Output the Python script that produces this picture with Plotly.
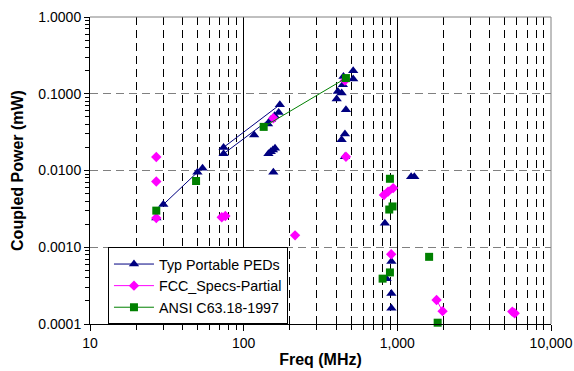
import plotly.graph_objects as go

# Typ Portable PEDs (None separates unconnected groups)
ped_freq = [27, None, 30, 50, None, 54, None, 74, 172, None, 74, 169, None, 117, None,
            144, None, 150, None, 159, None, 145, None, 150, None, 155, None, 160, None, 156, None,
            403, None, 410, None, 434, None, 442, None, 446, None, 516, None, 516, None, 463, None,
            456, None, 434, None, 456, None, 830, None, 915, None, 851, None, 915, None, 915, None,
            1230, None, 1290]
ped_power = [0.0024, None, 0.0036, 0.0095, None, 0.0107, None, 0.020, 0.072, None, 0.0165, 0.057, None, 0.029, None,
             0.0405, None, 0.0457, None, 0.0516, None, 0.0165, None, 0.0175, None, 0.0185, None, 0.0195, None, 0.0095, None,
             0.0853, None, 0.107, None, 0.102, None, 0.131, None, 0.168, None, 0.199, None, 0.156, None, 0.0617, None,
             0.030, None, 0.0251, None, 0.0151, None, 0.00205, None, 0.00065, None, 0.00039, None, 0.00025, None, 0.00016, None,
             0.0083, None, 0.0083]

# FCC_Specs-Partial
fcc_freq = [27, None, 27, None, 27, None, 72, 76, None, 156, None, 216, None, 456, None, 463, None,
            818, 870, 940, None, 912, None, 1800, 1970, None, 5600, 5800]
fcc_power = [0.015, None, 0.0072, None, 0.0024, None, 0.00246, 0.00255, None, 0.048, None, 0.00143, None, 0.149, None, 0.0151, None,
             0.0048, 0.0053, 0.0059, None, 0.00081, None, 0.000205, 0.000147, None, 0.000145, 0.000138]

# ANSI C63.18-1997
ansi_freq = [27, None, 49, None, 135, 463, None, 895, None, 886, None, 931, None, 895, None, 802, None,
             1610, None, 1830]
ansi_power = [0.0030, None, 0.0073, None, 0.037, 0.16, None, 0.0078, None, 0.0031, None, 0.0034, None, 0.00047, None, 0.00039, None,
              0.00075, None, 0.000104]

x_tick_vals = [10, 100, 1000, 10000]
x_tick_text = ["10", "100", "1,000", "10,000"]
y_tick_vals = [0.0001, 0.001, 0.01, 0.1, 1]
y_tick_text = ["0.0001", "0.0010", "0.0100", "0.1000", "1.0000"]

x_minor = [m * 10 ** e for e in (1, 2, 3) for m in range(2, 10)]
y_minor = [m * 10.0 ** e for e in (-4, -3, -2, -1) for m in range(2, 10)]

FONT = "Liberation Sans, Arial, sans-serif"

fig = go.Figure()
fig.add_trace(go.Scatter(x=ped_freq, y=ped_power, mode="lines+markers", name="Typ Portable PEDs",
                         line=dict(color="#000080", width=1),
                         marker=dict(symbol="triangle-up", size=9, color="#000080"),
                         cliponaxis=False, connectgaps=False))
fig.add_trace(go.Scatter(x=fcc_freq, y=fcc_power, mode="lines+markers", name="FCC_Specs-Partial",
                         line=dict(color="#FF00FF", width=1),
                         marker=dict(symbol="diamond", size=8, color="#FF00FF"),
                         cliponaxis=False, connectgaps=False))
fig.add_trace(go.Scatter(x=ansi_freq, y=ansi_power, mode="lines+markers", name="ANSI C63.18-1997",
                         line=dict(color="#008000", width=1),
                         marker=dict(symbol="square", size=8, color="#008000"),
                         cliponaxis=False, connectgaps=False))

fig.add_shape(type="line", xref="paper", yref="paper", x0=0, x1=1, y0=1, y1=1,
              line=dict(color="#808080", width=1), layer="above")
fig.add_shape(type="line", xref="paper", yref="paper", x0=1, x1=1, y0=0, y1=1,
              line=dict(color="#808080", width=1), layer="above")

fig.update_layout(
    width=574, height=371,
    margin=dict(l=90, r=23, t=17, b=47, autoexpand=False),
    paper_bgcolor="white", plot_bgcolor="white",
    font=dict(family=FONT, size=14, color="black"),
    showlegend=True,
    legend=dict(x=0.039, y=0.25, xanchor="left", yanchor="top",
                bgcolor="white", bordercolor="black", borderwidth=1,
                itemwidth=40,
                font=dict(family=FONT, size=14.3, color="black")),
    xaxis=dict(type="log", range=[1, 4], automargin=False,
               tickvals=x_tick_vals, ticktext=x_tick_text,
               ticks="outside", ticklen=6, tickcolor="black",
               showline=True, linecolor="black", linewidth=1,
               showgrid=True, gridcolor="black", gridwidth=1,
               minor=dict(tickvals=x_minor, ticks="outside", ticklen=5, tickcolor="black",
                          showgrid=True, gridcolor="black", griddash="8px,5px", gridwidth=1),
               title=dict(text="<b>Freq (MHz)</b>", font=dict(size=16), standoff=4),
               tickfont=dict(size=14), zeroline=False),
    yaxis=dict(type="log", range=[-4, 0], automargin=False,
               tickvals=y_tick_vals, ticktext=y_tick_text,
               ticks="outside", ticklen=5, tickcolor="black",
               showline=True, linecolor="black", linewidth=1,
               showgrid=True, gridcolor="#808080", griddash="8px,5px", gridwidth=1,
               minor=dict(tickvals=y_minor, ticks="outside", ticklen=4, tickcolor="black",
                          showgrid=False),
               title=dict(text="<b>Coupled Power (mW)</b>", font=dict(size=16), standoff=10),
               tickfont=dict(size=14), zeroline=False),
)

# remove the default page margin so the 574x371 figure fills the window exactly
fig.write_html("out.html",
               config={"displayModeBar": False},
               post_script="document.body.style.margin='0';"
                           "document.documentElement.style.overflow='hidden';")
